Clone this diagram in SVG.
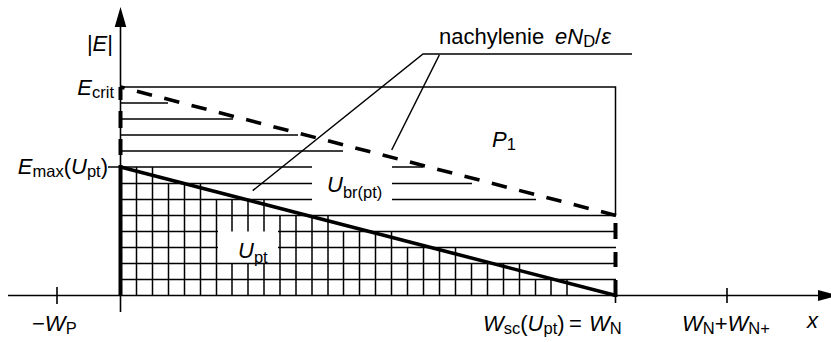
<svg xmlns="http://www.w3.org/2000/svg" width="831" height="342" viewBox="0 0 831 342">
<style>
.ln{stroke:#000;stroke-width:1.5;fill:none}
.ax{stroke:#000;stroke-width:1.6;fill:none}
.tk{stroke:#000;stroke-width:4;fill:none}
.th{stroke:#000;stroke-width:3.6;fill:none;stroke-linecap:butt}
.ds{stroke:#000;stroke-width:3.6;fill:none;stroke-dasharray:15.5 12.7}
text{font-family:"Liberation Sans",Arial,sans-serif;font-size:22px;fill:#000}
.i{font-style:italic}
.s{font-size:16.5px}
</style>
<g id="axes">
<path class="ax" d="M120.5 20V312M8 295.5H822"/>
<polygon points="114.7,27 120.5,7 126.3,27" fill="#000"/>
<polygon points="818,290 838,295.5 818,301" fill="#000"/>
<path class="ax" d="M57 287V304M727 288V303M615.5 295V303"/>
</g>
<g id="hatch">
<path class="ln" d="M120 103H168M120 119H233M120 135H298M120 151H343M108 167H312M392 167H423M120 183.5H312M392 183.5H472M120 199.5H312M392 199.5H536M120 215.5H616M120 231.5H218M278 231.5H616M120 247.5H218M278 247.5H616M120 263.5H616M120 279.5H616"/>
</g>
<g id="grid">
<path class="ln" d="M136.5 167V295.5M152.5 167V295.5M168.5 183.5V295.5M184.5 183.5V295.5M200.5 183.5V295.5M216.5 199.5V295.5M232 199.5V231.5M232 263.5V295.5M248 199.5V231.5M248 263.5V295.5M264 199.5V231.5M264 263.5V295.5M280 215.5V295.5M296 215.5V295.5M312 215.5V295.5M328 215.5V295.5M343.5 231.5V295.5M359.5 231.5V295.5M375.5 231.5V295.5M391.5 231.5V295.5M407.5 247.5V295.5M423.5 247.5V295.5M439.5 247.5V295.5M455.5 247.5V295.5M471.5 263.5V295.5M487.5 263.5V295.5M503.5 263.5V295.5M519.5 263.5V295.5M535.5 279.5V295.5M551 279.5V295.5M567 279.5V295.5"/>
</g>
<g id="box">
<path class="ln" d="M120.5 87H615.5V215.5"/>
</g>
<g id="edges">
<path class="tk" d="M120.5 87V100M120.5 111V128M120.5 139V155M120.5 165V295.5"/>
<path class="tk" d="M615.5 223V239M615.5 252V267M615.5 280V297"/>
</g>
<g id="curves">
<path class="ds" d="M616 215.5L120.5 87"/>
<path class="th" d="M120.5 167L616 295.5"/>
</g>
<g id="leaders">
<path class="ln" d="M632 54H423L252.7 190.7M439.3 55L391.7 150"/>
</g>
<g id="labels">
<text x="113" y="51" text-anchor="end">|<tspan class="i">E</tspan>|</text>
<text x="114" y="95" text-anchor="end"><tspan class="i">E</tspan><tspan class="s" dy="3">crit</tspan></text>
<text x="108" y="174" text-anchor="end"><tspan class="i">E</tspan><tspan class="s" dy="3">max</tspan><tspan dy="-3">(</tspan><tspan class="i">U</tspan><tspan class="s" dy="3">pt</tspan><tspan dy="-3">)</tspan></text>
<text x="492" y="147"><tspan class="i">P</tspan><tspan class="s" dy="3">1</tspan></text>
<text x="327" y="192"><tspan class="i">U</tspan><tspan class="s" dy="6">br(pt)</tspan></text>
<text x="238" y="257.5"><tspan class="i">U</tspan><tspan class="s" dy="5">pt</tspan></text>
<text x="439" y="43.5">nachylenie <tspan x="555" class="i">e</tspan><tspan class="i">N</tspan><tspan class="s" dy="3">D</tspan><tspan dy="-3">/</tspan><tspan class="i">ε</tspan></text>
<text x="32" y="331">−<tspan class="i">W</tspan><tspan class="s" dy="3">P</tspan></text>
<text x="483" y="331"><tspan class="i">W</tspan><tspan class="s" dy="3">sc</tspan><tspan dy="-3">(</tspan><tspan class="i">U</tspan><tspan class="s" dy="3">pt</tspan><tspan dy="-3">)</tspan><tspan x="569">=</tspan><tspan x="589" class="i">W</tspan><tspan class="s" dy="3">N</tspan></text>
<text x="682" y="331"><tspan class="i">W</tspan><tspan class="s" dy="3">N</tspan><tspan dy="-3">+</tspan><tspan class="i">W</tspan><tspan class="s" dy="3">N+</tspan></text>
<text x="807" y="328" class="i">x</text>
</g>
</svg>
